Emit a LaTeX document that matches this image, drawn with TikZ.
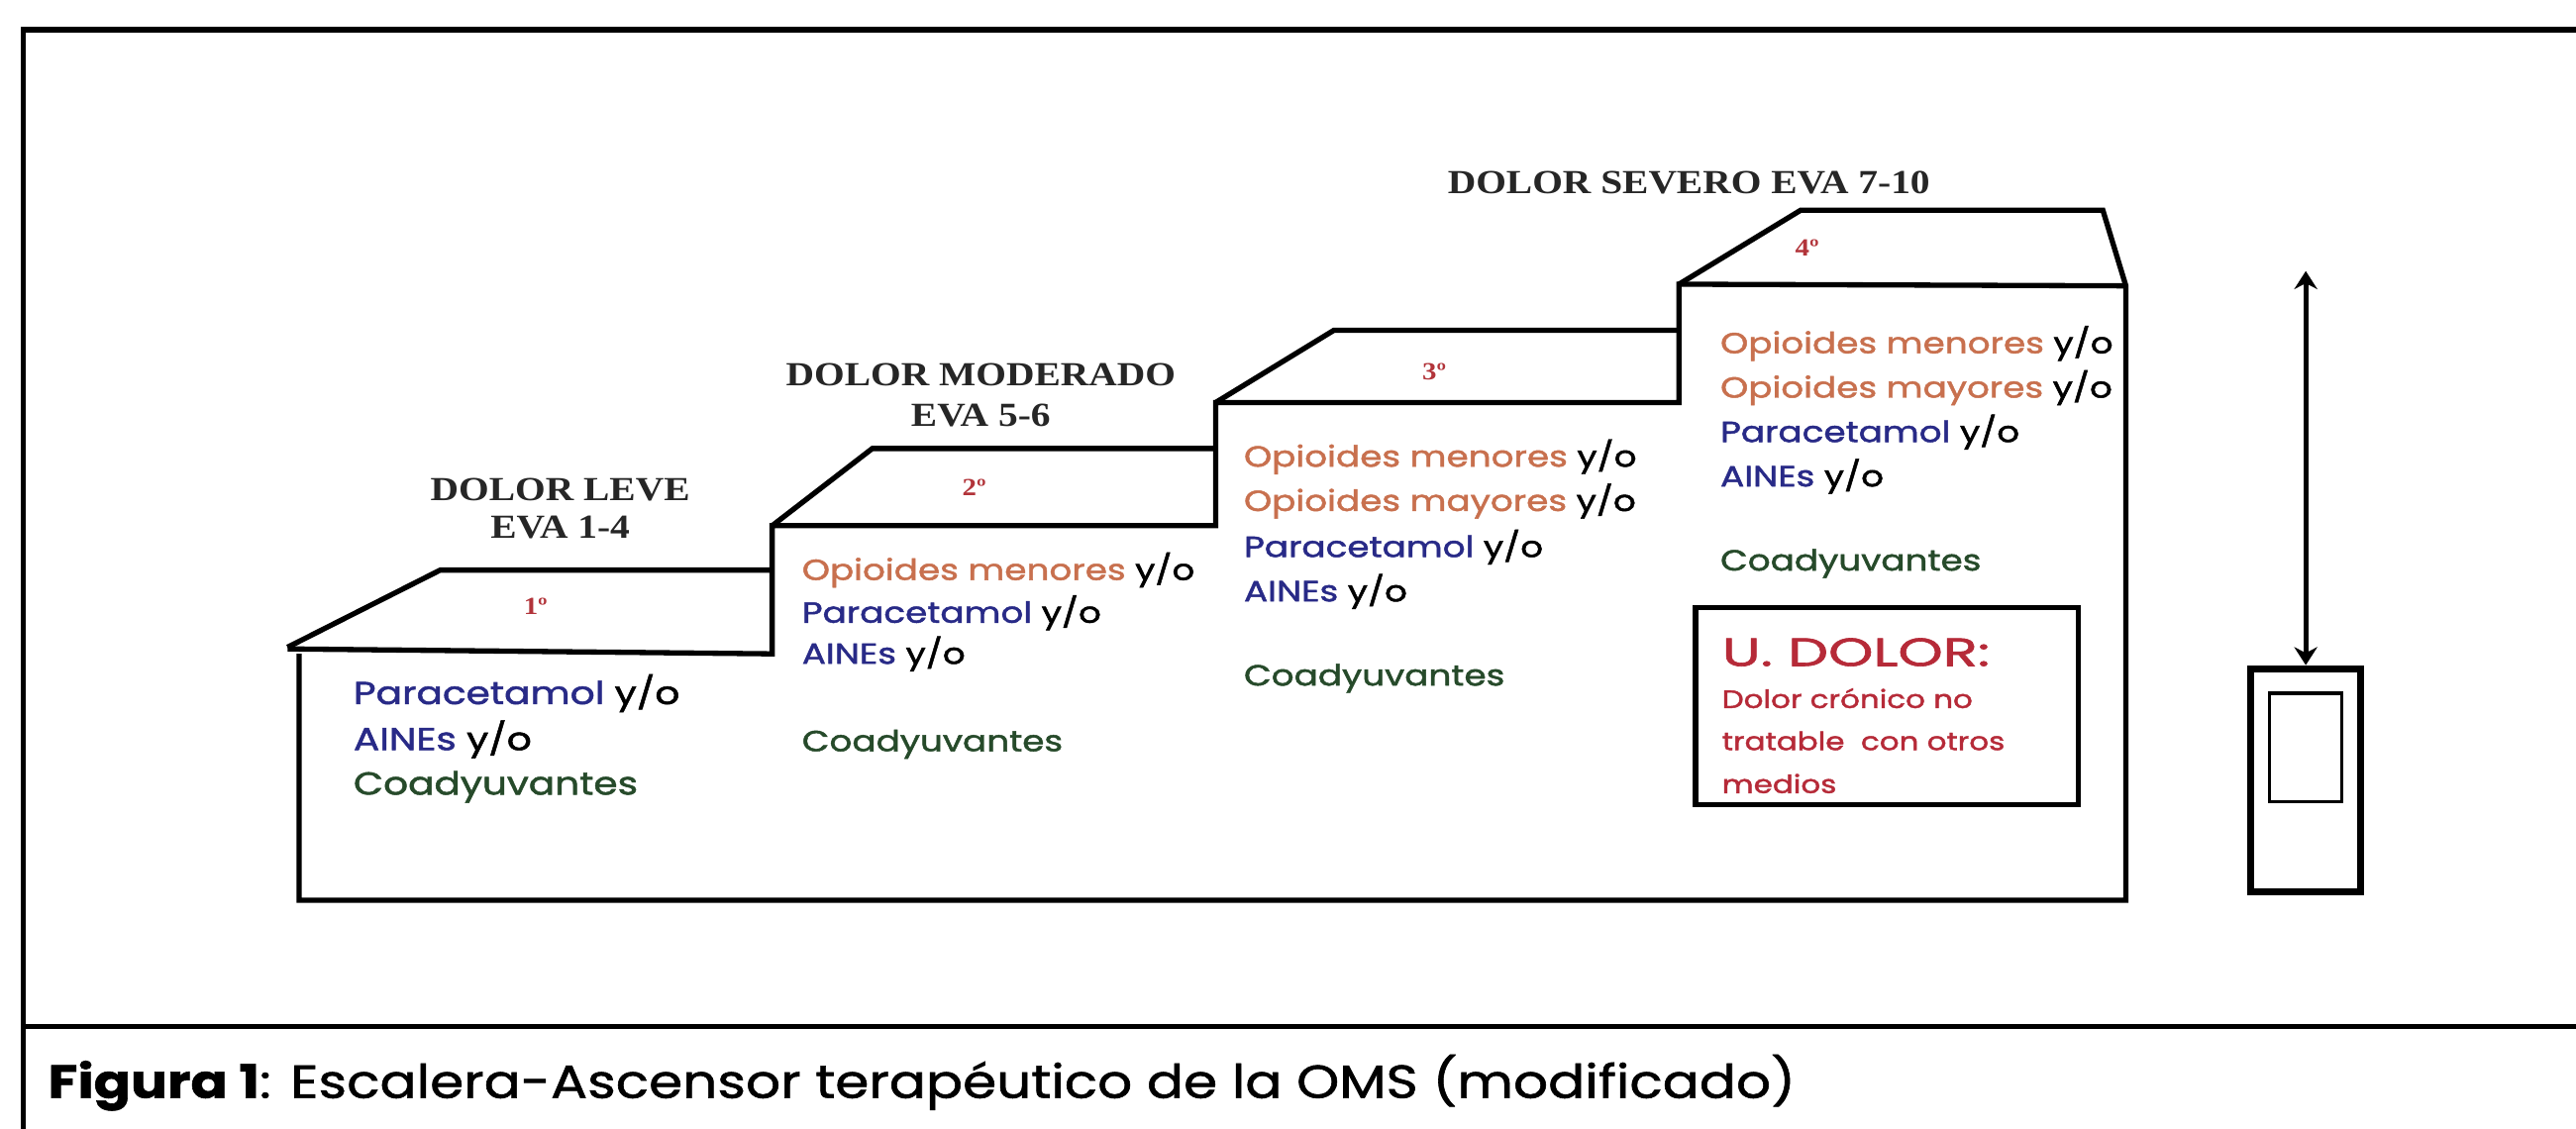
\documentclass[tikz,border=0pt]{standalone}
\usepackage{fontspec}
\usetikzlibrary{arrows.meta}
\newfontfamily\titlefont{Liberation Serif}[FakeStretch=1.16]
\newfontfamily\comic{Poppins}[FakeStretch=1.22,FakeBold=1.6]
\newfontfamily\ucomic{Poppins}[FakeStretch=1.45,FakeBold=1.6]
\newfontfamily\capfont{Poppins}[FakeStretch=1.17,FakeBold=1.2]
\definecolor{opi}{RGB}{200,112,78}
\definecolor{para}{RGB}{40,42,135}
\definecolor{coad}{RGB}{38,74,42}
\definecolor{numc}{RGB}{178,52,58}
\definecolor{udol}{RGB}{182,42,56}
\newcommand\yoo{\textcolor{black}{y/o}}
\begin{document}
\begin{tikzpicture}[x=1pt,y=-1pt,
  frame/.style={line width=3.2pt, draw=black},
  stair/.style={line width=3.2pt, line join=miter, line cap=butt},
  body/.style={anchor=west, inner sep=0pt, font=\comic\fontsize{17.7}{19}\selectfont},
  bodybig/.style={anchor=west, inner sep=0pt, font=\comic\fontsize{19.3}{21}\selectfont},
  smallred/.style={anchor=west, inner sep=0pt, text=udol, font=\comic\fontsize{15.3}{17}\selectfont},
  titletext/.style={inner sep=0pt, font=\titlefont\bfseries\fontsize{20.5}{22}\selectfont, text=black!85},
  stepnum/.style={inner sep=0pt, text=numc, font=\titlefont\bfseries\fontsize{15}{17}\selectfont}]
\fill[white] (0,0) rectangle (1568,687);
\useasboundingbox (0,0) rectangle (1568,687);
% outer frame
\coordinate (ftr) at (1568,18);
\coordinate (ftl) at (14,18);
\coordinate (fbl) at (14,687);
\coordinate (fcl) at (14,625);
\coordinate (fcr) at (1568,625);
\draw[frame] (ftr) -- (ftl) -- (fbl);
\draw[frame] (fcl) -- (fcr);
% staircase outline
\draw[stair] (175,394) -- (268,347) -- (470,347)
  (470,320) -- (531,273) -- (740,273)
  (740,245) -- (812,201) -- (1022,201)
  (1022,173) -- (1096,128) -- (1280,128) -- (1294,174) -- (1294,548) -- (182,548) -- (182,398);
\draw[stair] (175,395) -- (470,398) -- (470,320) -- (740,320) -- (740,245) -- (1022,245) -- (1022,173) -- (1294,174);
% titles
\node[titletext] (t1a) at (341,298) {DOLOR LEVE};
\node[titletext] (t1b) at (341,321) {EVA 1-4};
\node[titletext] (t2a) at (597,228) {DOLOR MODERADO};
\node[titletext] (t2b) at (597,253) {EVA 5-6};
\node[titletext] (t4a) at (1028,111) {DOLOR SEVERO EVA 7-10};
% step numbers
\node[stepnum] (n1) at (326,369) {1º};
\node[stepnum] (n2) at (593,297) {2º};
\node[stepnum] (n3) at (873,226) {3º};
\node[stepnum] (n4) at (1100,151) {4º};
% step 1
\node[bodybig] (a1) at (215,422) {\textcolor{para}{Paracetamol} \yoo};
\node[bodybig] (a2) at (215,450) {\textcolor{para}{AINEs} \yoo};
\node[bodybig] (a3) at (215,479) {\textcolor{coad}{Coadyuvantes}};
% step 2
\node[body] (b1) at (488,347) {\textcolor{opi}{Opioides menores} \yoo};
\node[body] (b2) at (488,373) {\textcolor{para}{Paracetamol} \yoo};
\node[body] (b3) at (488,398) {\textcolor{para}{AINEs} \yoo};
\node[body] (b4) at (488,453) {\textcolor{coad}{Coadyuvantes}};
% step 3
\node[body] (c1) at (757,278) {\textcolor{opi}{Opioides menores} \yoo};
\node[body] (c2) at (757,305) {\textcolor{opi}{Opioides mayores} \yoo};
\node[body] (c3) at (757,333) {\textcolor{para}{Paracetamol} \yoo};
\node[body] (c4) at (757,360) {\textcolor{para}{AINEs} \yoo};
\node[body] (c5) at (757,413) {\textcolor{coad}{Coadyuvantes}};
% step 4
\node[body] (d1) at (1047,209) {\textcolor{opi}{Opioides menores} \yoo};
\node[body] (d2) at (1047,236) {\textcolor{opi}{Opioides mayores} \yoo};
\node[body] (d3) at (1047,263) {\textcolor{para}{Paracetamol} \yoo};
\node[body] (d4) at (1047,290) {\textcolor{para}{AINEs} \yoo};
\node[body] (d5) at (1047,343) {\textcolor{coad}{Coadyuvantes}};
% U. DOLOR box
\node[draw=black, line width=3.2pt, minimum width=233pt, minimum height=120pt, inner sep=0pt] (ubox) at (1148.5,430) {};
\node[anchor=west, inner sep=0pt, text=udol, font=\ucomic\fontsize{24}{26}\selectfont] (u1) at (1048,397) {U. DOLOR:};
\node[smallred] (u2) at (1048,425) {Dolor crónico no};
\node[smallred] (u3) at (1048,451) {tratable\ \ con otros};
\node[smallred] (u4) at (1048,477) {medios};
% elevator
\node[draw=black, line width=4.2pt, minimum width=67pt, minimum height=136pt, inner sep=0pt] (elev) at (1403.5,475) {};
\node[draw=black, line width=2.2pt, minimum width=44pt, minimum height=66pt, inner sep=0pt] (win) at (1403.5,455) {};
\coordinate (etop) at (1403.5,165);
\draw[line width=3pt, {Stealth[length=11pt,width=14pt]}-{Stealth[length=11pt,width=14pt]}] (etop) -- (elev.north);
% caption
\node[anchor=west, inner sep=0pt, font=\capfont\fontsize{28.3}{30}\selectfont] (cap) at (29,659) {\textbf{Figura 1}: Escalera-Ascensor terapéutico de la OMS (modificado)};
\end{tikzpicture}
\end{document}
